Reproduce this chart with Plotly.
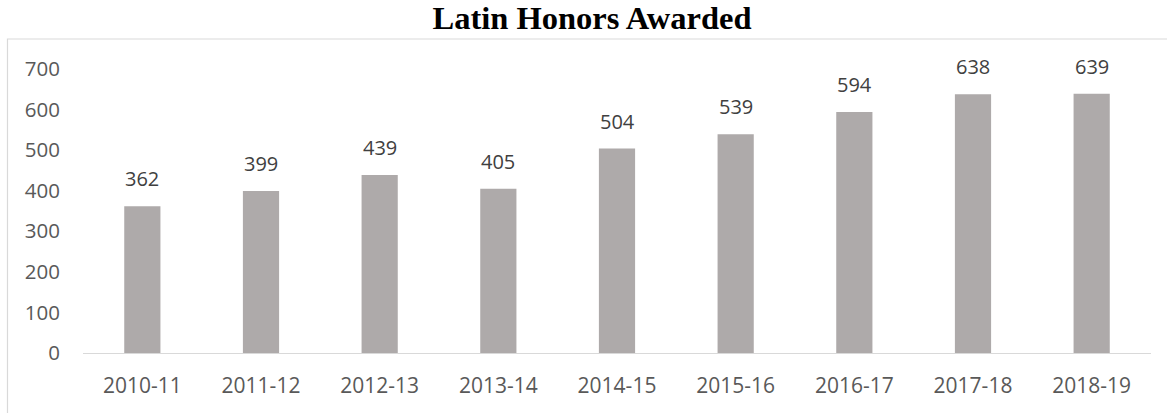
import plotly.graph_objects as go

categories = ["2010-11", "2011-12", "2012-13", "2013-14", "2014-15",
              "2015-16", "2016-17", "2017-18", "2018-19"]
values = [362, 399, 439, 405, 504, 539, 594, 638, 639]
y_ticks = [0, 100, 200, 300, 400, 500, 600, 700]
title_text = "Latin Honors Awarded"

W, H = 1167, 413
L, R, T, B = 83, 16, 69, 60
pw, ph = W - L - R, H - T - B

fig = go.Figure()
fig.add_trace(go.Bar(
    x=categories, y=values,
    marker=dict(color="#AEAAAA", line=dict(width=0)),
    hoverinfo="x+y",
))

for c, v in zip(categories, values):
    fig.add_annotation(
        x=c, y=v, text=str(v), showarrow=False,
        yanchor="bottom", yshift=12,
        font=dict(family="Open Sans", size=20, color="#404040"),
    )

# chart frame (cut by canvas at right and bottom)
fig.add_shape(
    type="rect", xref="paper", yref="paper",
    x0=(7.5 - L) / pw, x1=1.05,
    y0=-0.5, y1=(H - B - 39) / ph,
    line=dict(color="#D9D9D9", width=1.2), fillcolor="rgba(0,0,0,0)",
    layer="below",
)

fig.update_layout(
    width=W, height=H,
    margin=dict(l=L, r=R, t=T, b=B),
    paper_bgcolor="white", plot_bgcolor="white",
    bargap=0.695,
    showlegend=False,
    title=dict(
        text="<b>" + title_text + "</b>",
        x=592 / W, xanchor="center", xref="container",
        y=1 - 18 / H, yanchor="middle", yref="container",
        font=dict(family="Liberation Serif", size=32.5, color="#000000"),
    ),
    xaxis=dict(
        type="category",
        showgrid=False, showline=True, linecolor="#D9D9D9", linewidth=1.2,
        ticks="", ticklabelstandoff=14,
        tickfont=dict(family="Open Sans", size=21, color="#595959"),
    ),
    yaxis=dict(
        range=[0, 700], tickvals=y_ticks, showgrid=False, zeroline=False,
        showline=False, ticks="", ticklabelstandoff=22,
        tickfont=dict(family="Open Sans", size=20.5, color="#595959"),
    ),
)

fig.write_html("out.html", config={"displayModeBar": False},
               post_script="document.body.style.margin='0';")
